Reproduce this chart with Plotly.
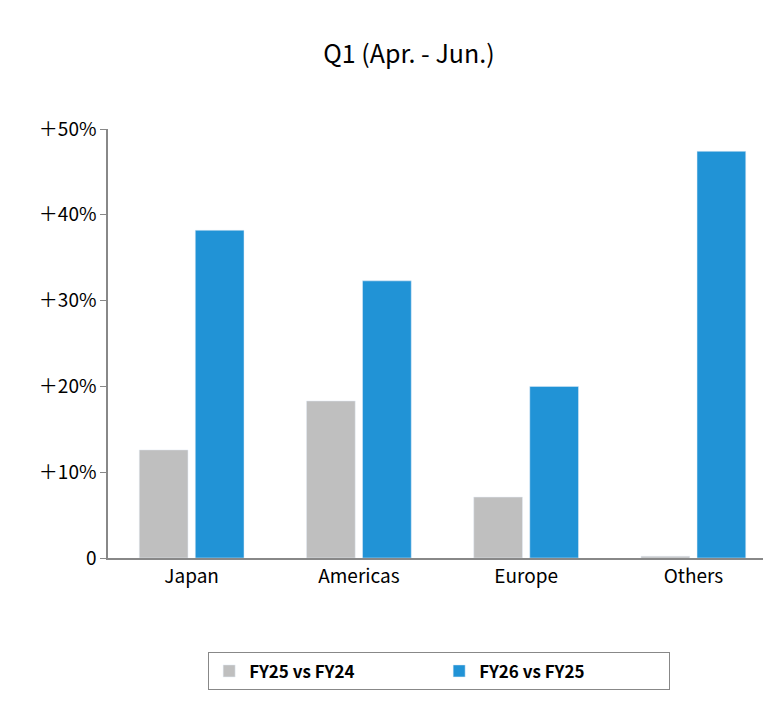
import plotly.graph_objects as go

categories = ["Japan", "Americas", "Europe", "Others"]
fy25_vs_fy24 = [12.6, 18.3, 7.1, 0.2]
fy26_vs_fy25 = [38.2, 32.3, 20.0, 47.4]
tick_vals = [0, 10, 20, 30, 40, 50]
tick_text = ["0", "＋10%", "＋20%", "＋30%", "＋40%", "＋50%"]

font = "Noto Sans CJK JP, Noto Sans, sans-serif"
fig = go.Figure()
fig.add_bar(x=categories, y=fy25_vs_fy24, name="<b>FY25 vs FY24</b>", marker_color="#BFBFBF")
fig.add_bar(x=categories, y=fy26_vs_fy25, name="<b>FY26 vs FY25</b>", marker_color="#2193D6")
fig.update_layout(
    width=771, height=705, plot_bgcolor="white", paper_bgcolor="white",
    margin=dict(l=100, r=2, t=121, b=155, autoexpand=False),
    title=dict(text="Q1 (Apr. - Jun.)", x=0.52, xanchor="center", y=0.935, yanchor="middle",
               font=dict(family=font, size=25, color="black")),
    font=dict(family=font, color="black", size=19),
    bargap=0.33, bargroupgap=0.13,
    legend=dict(orientation="h", x=0.495, xanchor="center", y=-0.22, yanchor="top",
                bordercolor="#888", borderwidth=1, font=dict(size=17, family=font),
                traceorder="normal", entrywidth=185),
    showlegend=True,
)
fig.update_yaxes(range=[0, 50], tickvals=tick_vals, ticktext=tick_text, showgrid=False,
                 showline=True, linecolor="#888", linewidth=1.5, ticks="outside",
                 tickcolor="#888", ticklen=6, zeroline=False, automargin=False)
fig.update_xaxes(showline=True, linecolor="#888", linewidth=1.5, ticks="", tickfont=dict(size=19),
                 automargin=False)
fig.write_html("out.html")
